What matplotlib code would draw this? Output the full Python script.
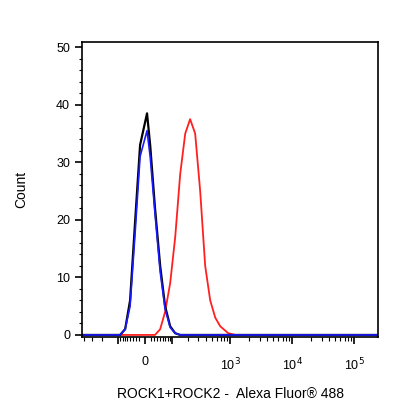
import numpy as np
import matplotlib
matplotlib.use("Agg")
import matplotlib.pyplot as plt

plt.rcParams['font.family'] = ['Liberation Sans', 'DejaVu Sans']

# fluorescence values and event counts
black_x = [-440, -91, -69, -50, -32, -16, 6, 16, 32, 50, 69, 91, 116, 145, 244000]
black_y = [0, 0, 1, 6, 20, 33, 38.5, 33, 22, 12, 5, 1.5, 0.3, 0, 0]
blue_x = black_x
blue_y = [0, 0, 1, 5, 18, 31, 35.5, 31, 21, 11, 4.5, 1.3, 0.3, 0, 0]
red_x = [-440, 32, 50, 69, 91, 116, 145, 179, 218, 266, 323, 391, 473, 572, 690, 930, 1210, 244000]
red_y = [0, 0, 1, 4, 9, 17, 28, 35, 37.5, 35, 25, 12, 6, 3, 1.5, 0.3, 0, 0]

C = 85.0
fwd = lambda v: np.arcsinh(np.asarray(v) / C)
inv = lambda p: C * np.sinh(np.asarray(p))

fig = plt.figure(figsize=(4.16, 4.16), dpi=100)
ax = fig.add_axes([0.197, 0.19, 0.712, 0.709])
ax.set_xscale('function', functions=(fwd, inv))

ax.plot(red_x, red_y, color='#ff2020', lw=1.3, solid_joinstyle='round')
ax.plot(black_x, black_y, color='black', lw=1.6, solid_joinstyle='round')
ax.plot(blue_x, blue_y, color='#1a1aff', lw=1.2, solid_joinstyle='round')

ax.set_xlim(-440, 244000)
ax.set_ylim(-0.35, 50.9)

major = [-100, 0, 100, 1000, 10000, 100000]
labels = ['', '0', '', r'10$^3$', r'10$^4$', r'10$^5$']
ax.set_xticks(major)
ax.set_xticklabels(labels, fontsize=9)
minor = []
for d in [10, 100, 1000, 10000]:
    for m in range(2, 10):
        minor.append(m * d)
minor += [-m * 10 for m in range(2, 10)] + [-m * 100 for m in range(2, 5)]
minor = [v for v in minor if -440 < v < 244000]
ax.set_xticks(minor, minor=True)
ax.tick_params(axis='x', which='major', length=5, width=1.2, pad=9)
ax.tick_params(axis='x', which='minor', length=3, width=0.8)

ax.set_yticks([0, 10, 20, 30, 40, 50])
ax.set_yticks(np.arange(0, 51, 2), minor=True)
ax.tick_params(axis='y', which='major', length=5, width=1.2, labelsize=9)
ax.tick_params(axis='y', which='minor', length=2.5, width=0.8)

for s in ax.spines.values():
    s.set_linewidth(1.2)

ax.set_ylabel('Count', fontsize=10, labelpad=20)
ax.set_xlabel('ROCK1+ROCK2 -  Alexa Fluor\u00ae 488', fontsize=10, labelpad=10)

fig.savefig('out.png', dpi=100)
